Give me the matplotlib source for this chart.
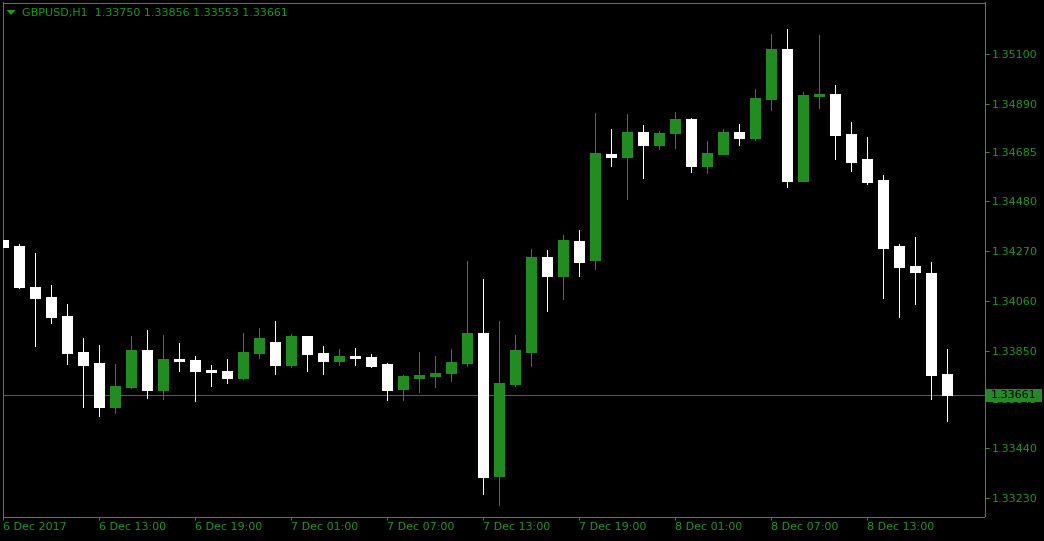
import matplotlib
matplotlib.use("Agg")
import matplotlib.pyplot as plt
from matplotlib.patches import Rectangle, Polygon

# ---------------- data (GBPUSD, H1) ----------------
opens = [1.34316, 1.34291, 1.34118, 1.34076, 1.33996, 1.33844, 1.33798, 1.33612, 1.33696, 1.33852,
         1.33684, 1.33814, 1.33810, 1.33768, 1.33764, 1.33734, 1.33840, 1.33886, 1.33789, 1.33911,
         1.33840, 1.33806, 1.33827, 1.33823, 1.33793, 1.33688, 1.33734, 1.33743, 1.33755, 1.33798,
         1.33924, 1.33321, 1.33709, 1.33844, 1.34244, 1.34164, 1.34312, 1.34232, 1.34679, 1.34666,
         1.34771, 1.34716, 1.34767, 1.34826, 1.34628, 1.34679, 1.34771, 1.34746, 1.34910, 1.35121,
         1.34565, 1.34923, 1.34931, 1.34763, 1.34657, 1.34569, 1.34291, 1.34206, 1.34177, 1.33750]

highs = [1.34337, 1.34299, 1.34261, 1.34126, 1.34046, 1.33903, 1.33873, 1.33793, 1.33911, 1.33937,
         1.33916, 1.33882, 1.33827, 1.33789, 1.33814, 1.33924, 1.33945, 1.33975, 1.33920, 1.33913,
         1.33869, 1.33857, 1.33861, 1.33836, 1.33798, 1.33747, 1.33844, 1.33827, 1.33857, 1.34228,
         1.34152, 1.33975, 1.33916, 1.34278, 1.34274, 1.34337, 1.34358, 1.34851, 1.34784, 1.34847,
         1.34801, 1.34775, 1.34856, 1.34830, 1.34733, 1.34784, 1.34805, 1.34952, 1.35184, 1.35205,
         1.34940, 1.35180, 1.34969, 1.34813, 1.34750, 1.34590, 1.34299, 1.34329, 1.34223, 1.33856]

lows = [1.34190, 1.34114, 1.33869, 1.33966, 1.33793, 1.33612, 1.33574, 1.33587, 1.33692, 1.33650,
        1.33646, 1.33764, 1.33637, 1.33701, 1.33713, 1.33732, 1.33819, 1.33751, 1.33781, 1.33764,
        1.33751, 1.33789, 1.33789, 1.33781, 1.33642, 1.33642, 1.33675, 1.33696, 1.33722, 1.33785,
        1.33245, 1.33199, 1.33701, 1.33785, 1.34017, 1.34067, 1.34164, 1.34194, 1.34628, 1.34489,
        1.34577, 1.34700, 1.34704, 1.34603, 1.34598, 1.34677, 1.34716, 1.34738, 1.34864, 1.34539,
        1.34563, 1.34872, 1.34657, 1.34607, 1.34552, 1.34072, 1.33991, 1.34046, 1.33646, 1.33553]

closes = [1.34288, 1.34119, 1.34072, 1.33991, 1.33840, 1.33789, 1.33612, 1.33701, 1.33852, 1.33684,
          1.33814, 1.33807, 1.33764, 1.33760, 1.33734, 1.33844, 1.33903, 1.33789, 1.33911, 1.33836,
          1.33806, 1.33827, 1.33819, 1.33785, 1.33684, 1.33743, 1.33747, 1.33755, 1.33802, 1.33924,
          1.33317, 1.33713, 1.33852, 1.34244, 1.34164, 1.34316, 1.34223, 1.34683, 1.34666, 1.34771,
          1.34716, 1.34767, 1.34826, 1.34628, 1.34683, 1.34771, 1.34746, 1.34915, 1.35121, 1.34565,
          1.34927, 1.34931, 1.34759, 1.34645, 1.34561, 1.34282, 1.34202, 1.34181, 1.33747, 1.33661]

time_tick_index = [0, 6, 12, 18, 24, 30, 36, 42, 48, 54]
time_tick_labels = ["6 Dec 2017", "6 Dec 13:00", "6 Dec 19:00", "7 Dec 01:00", "7 Dec 07:00",
                    "7 Dec 13:00", "7 Dec 19:00", "8 Dec 01:00", "8 Dec 07:00", "8 Dec 13:00"]
price_ticks = [1.35100, 1.34890, 1.34685, 1.34480, 1.34270, 1.34060, 1.33850, 1.33645, 1.33440, 1.33230]
price_tick_labels = ["1.35100", "1.34890", "1.34685", "1.34480", "1.34270", "1.34060", "1.33850",
                     "1.33645", "1.33440", "1.33230"]
symbol = "GBPUSD,H1"

# ---------------- style ----------------
BG = "#000000"
TXT = "#1e9a1e"
FRAME = "#1f9f1f"
BULL = "#228B22"
BEAR = "#ffffff"
PRICE_LINE = "#4b5e5e"
W, H = 1044, 541
PX = 72.0 / 100.0  # one pixel in points

fig = plt.figure(figsize=(W / 100, H / 100), dpi=100, facecolor=BG)
ax = fig.add_axes([2.5 / W, (H - 516.5) / H, 982 / W, 514 / H], facecolor=BG)

n = len(opens)
for i in range(n):
    o, h, l, c = opens[i], highs[i], lows[i], closes[i]
    col = BULL if c > o else BEAR
    ax.vlines(i, l, h, color=col, linewidth=PX, zorder=2, antialiased=False)
    ax.bar(i, abs(c - o), bottom=min(o, c), width=10 / 16, color=col,
           edgecolor=col, linewidth=PX, zorder=3, antialiased=False)

last = closes[-1]
ax.axhline(last, color=PRICE_LINE, linewidth=PX, zorder=1, antialiased=False)

ax.set_xlim(-0.05, 61.325)
ax.set_ylim(1.331507, 1.353171)

for s in ax.spines.values():
    s.set_color(FRAME)
    s.set_linewidth(PX)
    s.set_antialiased(False)

ax.yaxis.tick_right()
ax.set_yticks(price_ticks)
ax.set_yticklabels(price_tick_labels)
ax.tick_params(axis="y", which="both", direction="out", length=4 * PX, width=PX,
               color=FRAME, labelcolor=TXT, labelsize=8, pad=2.3, left=False, right=True)

ax.set_xticks(time_tick_index)
ax.set_xticklabels(time_tick_labels, ha="left")
ax.tick_params(axis="x", which="both", direction="out", length=3 * PX, width=PX,
               color=FRAME, labelcolor=TXT, labelsize=8, pad=2.0)

# current price label box (display coords derived from data transform)
fig.canvas.draw()
yd = ax.transData.transform((0, last))[1]
box = Rectangle((986, yd - 6.8), 56, 13.6, transform=None, facecolor=BULL,
                edgecolor="none", zorder=5)
fig.add_artist(box)
fig.add_artist(plt.Text(991, yd, f"{last:.5f}", color="#000000", fontsize=8,
                        va="center", ha="left", transform=None, zorder=6))

# header
tri = Polygon([(6.5, H - 10), (15.5, H - 10), (11, H - 15)], closed=True,
              transform=None, facecolor=TXT, edgecolor="none")
fig.add_artist(tri)
header = f"{symbol}  {opens[-1]:.5f} {highs[-1]:.5f} {lows[-1]:.5f} {closes[-1]:.5f}"
fig.text(21.5 / W, 1 - 13 / H, header, color=TXT, fontsize=8, va="center", ha="left")

fig.savefig("out.png", dpi=100, facecolor=BG)
